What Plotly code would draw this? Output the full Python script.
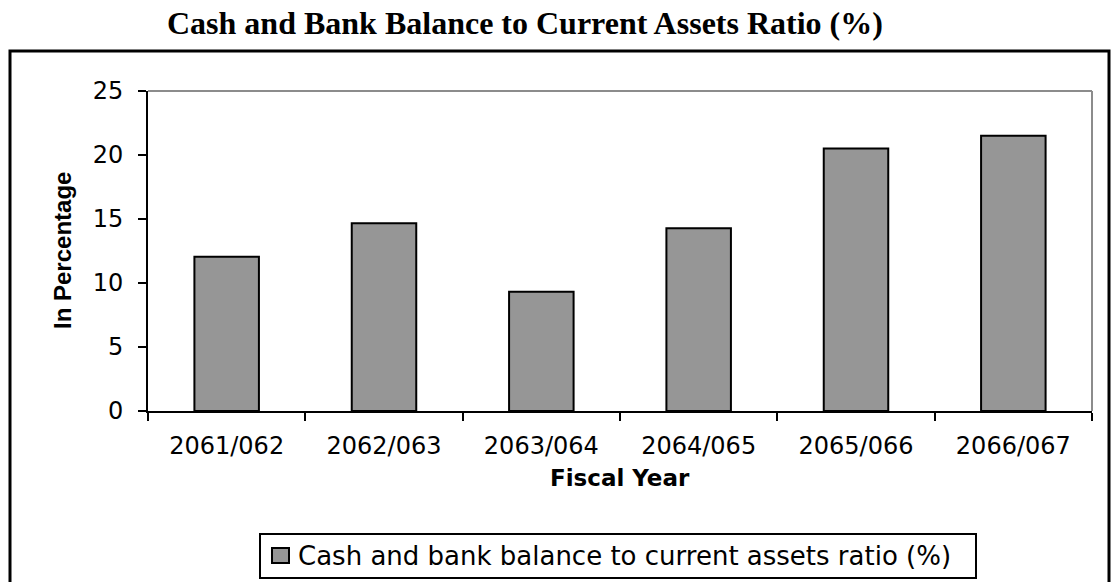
import plotly.graph_objects as go

# Fiscal years and cash & bank balance to current assets ratio (%)
fiscal_years = ["2061/062", "2062/063", "2063/064", "2064/065", "2065/066", "2066/067"]
cash_bank_ratio = [12.06, 14.67, 9.31, 14.28, 20.51, 21.50]
y_ticks = [0, 5, 10, 15, 20, 25]

series_name = "Cash and bank balance to current assets ratio (%)"
bar_fill = "#969696"

# plotting area in pixels (left, right, top, bottom)
PL, PR, PT, PB = 148, 1092, 91, 411
W, H = 1113, 582


def px(x):
    return (x - PL) / (PR - PL)


def py(y):
    return (PB - y) / (PB - PT)


fig = go.Figure()
fig.add_trace(go.Bar(
    x=fiscal_years,
    y=cash_bank_ratio,
    name=series_name,
    marker=dict(color=bar_fill, line=dict(color="black", width=2)),
    showlegend=False,
))

sans = "DejaVu Sans, Verdana, sans-serif"
arial = "Liberation Sans, Arial, sans-serif"

fig.update_layout(
    width=W,
    height=H,
    margin=dict(l=PL, r=W - PR, t=PT, b=H - PB, autoexpand=False),
    paper_bgcolor="white",
    plot_bgcolor="white",
    bargap=0.59,
    font=dict(family=sans, color="black", size=24),
    showlegend=False,
    xaxis=dict(
        type="category",
        showline=True, linecolor="black", linewidth=2,
        ticks="outside", tickson="boundaries", ticklen=8, tickwidth=2, tickcolor="black",
        tickfont=dict(family=sans, size=24, color="black"),
        ticklabelstandoff=12,
        showgrid=False, zeroline=False,
    ),
    yaxis=dict(
        range=[0, 25],
        tickvals=y_ticks,
        showline=True, linecolor="black", linewidth=2,
        ticks="outside", ticklen=8, tickwidth=2, tickcolor="black",
        tickfont=dict(family=sans, size=24, color="black"),
        ticklabelstandoff=10,
        showgrid=False, zeroline=False,
    ),
    shapes=[
        # gray frame on top and right of the plotting area
        dict(type="line", xref="paper", yref="paper", x0=0, x1=1, y0=1, y1=1,
             line=dict(color="#8c8c8c", width=2)),
        dict(type="line", xref="paper", yref="paper", x0=1, x1=1, y0=0, y1=1,
             line=dict(color="#8c8c8c", width=2)),
        # outer chart border
        dict(type="rect", xref="paper", yref="paper",
             x0=px(10), x1=px(1109), y0=py(590), y1=py(51),
             line=dict(color="black", width=3), layer="below"),
        # legend box
        dict(type="rect", xref="paper", yref="paper",
             x0=px(260), x1=px(976), y0=py(578), y1=py(534),
             line=dict(color="black", width=2), fillcolor="white", layer="below"),
        # legend swatch
        dict(type="rect", xref="paper", yref="paper",
             x0=px(272), x1=px(289), y0=py(563), y1=py(548),
             line=dict(color="black", width=2), fillcolor=bar_fill),
    ],
    annotations=[
        dict(text="<b>Cash and Bank Balance to Current Assets Ratio (%)</b>",
             xref="paper", yref="paper", x=px(525), y=py(23),
             xanchor="center", yanchor="middle", showarrow=False,
             font=dict(family="Liberation Serif, Times New Roman, serif", size=32, color="black")),
        dict(text="<b>Fiscal Year</b>",
             xref="paper", yref="paper", x=0.5, y=py(478),
             xanchor="center", yanchor="middle", showarrow=False,
             font=dict(family=sans, size=23, color="black")),
        dict(text="<b>In Percentage</b>",
             xref="paper", yref="paper", x=px(62), y=0.5,
             xanchor="center", yanchor="middle", showarrow=False, textangle=-90,
             font=dict(family=arial, size=24, color="black")),
        dict(text=series_name,
             xref="paper", yref="paper", x=px(296), y=py(556),
             xanchor="left", yanchor="middle", showarrow=False,
             font=dict(family=sans, size=26, color="black")),
    ],
)

fig.write_html("out.html")
